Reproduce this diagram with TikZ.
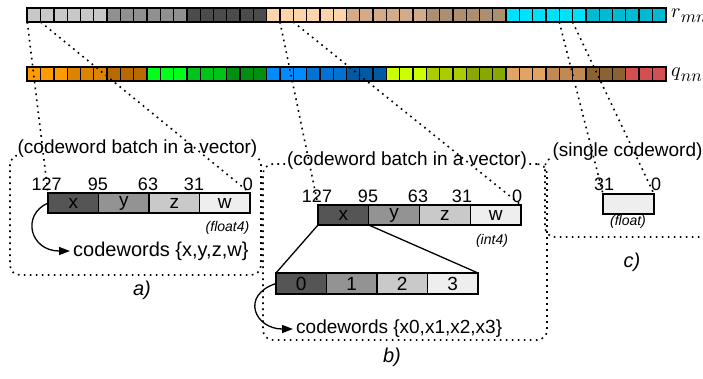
\documentclass[tikz,border=0pt]{standalone}
\usepackage{fontspec}
\setmainfont{Liberation Sans}
\usetikzlibrary{arrows.meta}

% bar colours (r: groups of six, q: groups of three)
\definecolor{rga}{HTML}{C8C8C8}
\definecolor{rgb}{HTML}{909090}
\definecolor{rgc}{HTML}{4C4C4C}
\definecolor{rta}{HTML}{FFD4A8}
\definecolor{rtb}{HTML}{D4AB88}
\definecolor{rtc}{HTML}{AB8F70}
\definecolor{rca}{HTML}{00E1FF}
\definecolor{rcb}{HTML}{00B9D2}
\definecolor{qoa}{HTML}{FF9A00}
\definecolor{qob}{HTML}{DC8300}
\definecolor{qoc}{HTML}{B86A00}
\definecolor{qga}{HTML}{00FF1A}
\definecolor{qgb}{HTML}{00C41A}
\definecolor{qgc}{HTML}{008F10}
\definecolor{qba}{HTML}{008CFF}
\definecolor{qbb}{HTML}{0072D4}
\definecolor{qbc}{HTML}{005AA3}
\definecolor{qya}{HTML}{CCFF00}
\definecolor{qyb}{HTML}{AACC00}
\definecolor{qyc}{HTML}{88A800}
\definecolor{qla}{HTML}{E2A464}
\definecolor{qlb}{HTML}{C18A52}
\definecolor{qlc}{HTML}{8C6232}
\definecolor{qra}{HTML}{D45050}
% codeword shades
\definecolor{wa}{HTML}{555555}
\definecolor{wb}{HTML}{939393}
\definecolor{wc}{HTML}{C9C9C9}
\definecolor{wd}{HTML}{EEEEEE}

\tikzset{
  bit/.style={draw=black, line width=1.3pt, minimum width=13.3pt, minimum height=14pt,
    inner sep=0pt, outer sep=0pt, anchor=north west},
  word/.style={draw=black, line width=1.4pt, minimum height=20pt, inner sep=0pt,
    outer sep=0pt, anchor=north west, font=\fontsize{19}{22}\selectfont},
  dotline/.style={line width=1.6pt, dash pattern=on 1.7pt off 4.3pt},
  panel/.style={draw, dotline, rounded corners=10pt, inner sep=0pt, outer sep=0pt},
  title/.style={fill=white, inner sep=1pt, font=\fontsize{19}{22}\selectfont},
  bitno/.style={anchor=base, inner sep=0pt, font=\fontsize{18}{20}\selectfont},
  typ/.style={inner sep=0pt, font=\fontsize{14}{16}\selectfont\itshape},
  cw/.style={anchor=west, inner sep=3pt},
  tag/.style={inner sep=0pt, font=\fontsize{20}{22}\selectfont\itshape},
  seg/.style={line width=1.3pt},
  curvearrow/.style={line width=1.3pt, -{Triangle[length=11pt,width=8pt]}},
  barname/.style={anchor=base west, inner sep=0pt}
}

\begin{document}
\begin{tikzpicture}[x=1pt,y=-1pt]
\useasboundingbox (0,0) rectangle (703,378);
\clip (0,0) rectangle (703,378);

% dotted panels
\node[panel, minimum width=251pt, minimum height=120pt] (pa) at (135.5,215) {};
\node[panel, minimum width=284pt, minimum height=176pt] (pb) at (405,252) {};
\node[panel, minimum width=170pt, minimum height=80pt] (pc) at (630,197) {};

\node[title] (ta) at (137.5,149) {(codeword batch in a vector)};
\node[title] (tb) at (407,161) {(codeword batch in a vector)};
\node[title] (tc) at (627.5,152) {(single codeword)};

% r bar
\foreach \c [count=\g from 0] in {rga,rgb,rgc,rta,rtb,rtc,rca,rcb}{
  \foreach \k in {0,...,5}{
    \pgfmathtruncatemacro{\i}{6*\g+\k}
    \node[bit, fill=\c] (r\i) at ({27.3+13.3*\i},8) {};
  }
}
\draw[line width=1.7pt] (r0.north west) rectangle (r47.south east);

% q bar
\foreach \c [count=\g from 0] in {qoa,qob,qoc,qga,qgb,qgc,qba,qbb,qbc,qya,qyb,qyc,qla,qlb,qlc,qra}{
  \foreach \k in {0,...,2}{
    \pgfmathtruncatemacro{\i}{3*\g+\k}
    \node[bit, fill=\c] (q\i) at ({27.3+13.3*\i},66.7) {};
  }
}
\draw[line width=1.7pt] (q0.north west) rectangle (q47.south east);

\node[barname] (rl) at (671,17) {\scalebox{2}{$r$}\raisebox{-5.5pt}{\scalebox{1.75}{$mn$}}};
\node[barname] (ql) at (671,76) {\scalebox{2}{$q$}\raisebox{-5.5pt}{\scalebox{1.75}{$nn$}}};

% a) float4 vector
\foreach \t/\c [count=\i from 0] in {x/wa,y/wb,z/wc,w/wd}
  \node[word, fill=\c, minimum width=50.5pt] (a\i) at ({48+50.5*\i},193) {\t};
\node[bitno] (an0) at (46.7,190) {127};
\node[bitno] (an1) at (98,190) {95};
\node[bitno] (an2) at (148,190) {63};
\node[bitno] (an3) at (194,190) {31};
\node[bitno] (an4) at (248,190) {0};
\node[typ] (fa) at (227.5,228) {(float4)};
\node[cw, font=\fontsize{20}{22}\selectfont] (cwa) at (70,251) {codewords \{x,y,z,w\}};
\draw[curvearrow] (a0.west) .. controls +(-27,12) and +(-40,0) .. (cwa.west);
\node[tag] (la) at (142,290) {a)};

% b) int4 vector
\foreach \t/\c [count=\i from 0] in {x/wa,y/wb,z/wc,w/wd}
  \node[word, fill=\c, minimum width=50.75pt] (b\i) at ({318+50.75*\i},205) {\t};
\node[bitno] (bn0) at (317,202) {127};
\node[bitno] (bn1) at (368,202) {95};
\node[bitno] (bn2) at (418,202) {63};
\node[bitno] (bn3) at (462,202) {31};
\node[bitno] (bn4) at (517,202) {0};
\node[typ] (fb) at (492,241) {(int4)};
\foreach \t/\c [count=\i from 0] in {0/wa,1/wb,2/wc,3/wd}
  \node[word, fill=\c, minimum width=50.5pt, minimum height=21pt] (z\i) at ({276+50.5*\i},273) {\t};
\draw[seg] (b0.south west) -- (z0.north west);
\draw[seg] (b0.south east) -- (z3.north east);
\node[cw, font=\fontsize{19}{22}\selectfont] (cwb) at (293,329) {codewords \{x0,x1,x2,x3\}};
\draw[curvearrow] (z0.west) .. controls +(-36,12) and +(-38,0) .. (cwb.west);
\node[tag] (lb) at (392,357) {b)};

% c) single float
\node[word, fill=wd, minimum width=51pt] (c0) at (603,194) {};
\node[bitno] (cn0) at (604,190) {31};
\node[bitno] (cn1) at (656,190) {0};
\node[typ] (fc) at (628,222) {(float)};
\node[tag] (lc) at (632,262) {c)};

% dotted links from the r bar
\draw[dotline] (r0.south west) -- (a0.north west);
\draw[dotline] (r1.south west) -- (a3.north east);
\draw[dotline] (r19.south west) -- (b0.north west);
\draw[dotline] (r20.south west) -- (b3.north east);
\draw[dotline] (r40.south west) -- (c0.north west);
\draw[dotline] (r41.south west) -- (c0.north east);
\end{tikzpicture}
\end{document}
